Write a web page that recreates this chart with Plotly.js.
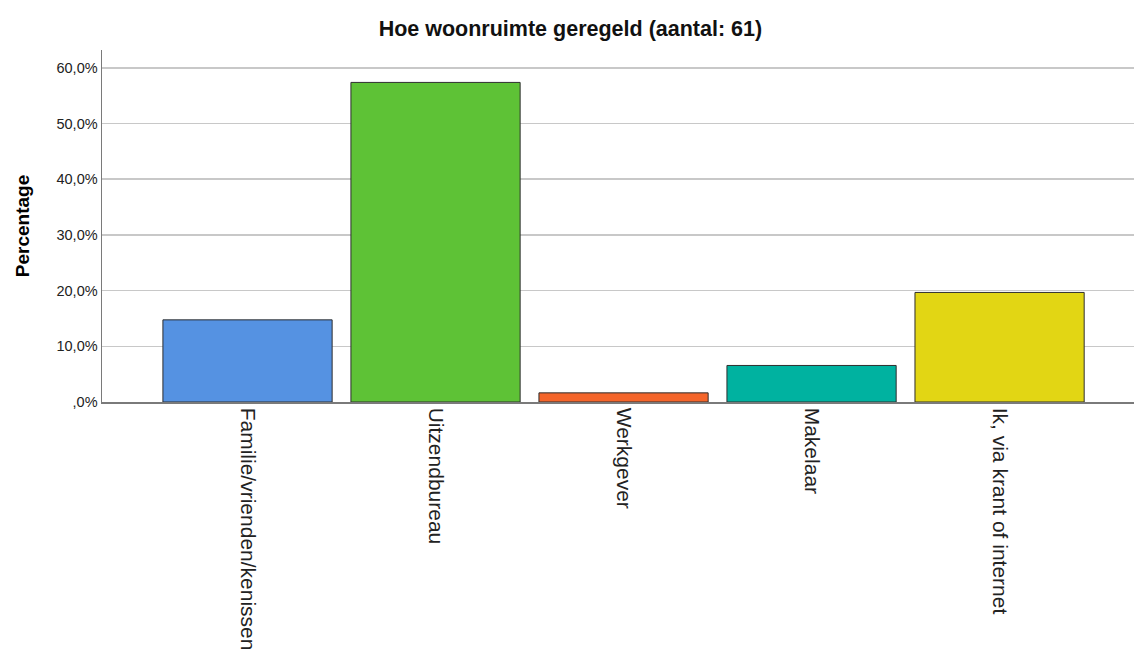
<!DOCTYPE html>
<html>
<head>
<meta charset="utf-8">
<script src="https://cdn.plot.ly/plotly-3.0.1.min.js"></script>
<style>
  html, body { margin: 0; padding: 0; background: #fff; }
  #chart { width: 1134px; height: 658px; }
</style>
</head>
<body>
<div id="chart"></div>
<script>
  /* ── data ── */
  const categories = ['Familie/vrienden/kenissen', 'Uitzendbureau', 'Werkgever', 'Makelaar', 'Ik, via krant of internet'];
  const percentages = [14.75, 57.38, 1.64, 6.56, 19.67];
  const barColors = ['#5592e2', '#5ec236', '#f4652a', '#00b2a0', '#e2d614'];
  const yTickVals = [0, 10, 20, 30, 40, 50, 60];
  const yTickText = [',0%', '10,0%', '20,0%', '30,0%', '40,0%', '50,0%', '60,0%'];

  const xs = categories.map((_, i) => i);

  Plotly.newPlot('chart', [
    {
      type: 'bar',
      x: xs, y: percentages,
      marker: { color: barColors, line: { color: '#2e2e2e', width: 1 } },
      hoverinfo: 'skip'
    }
  ], {
    width: 1134, height: 658,
    paper_bgcolor: '#fff', plot_bgcolor: '#fff',
    font: { family: 'Liberation Sans, Arial, sans-serif', color: '#000' },
    margin: { t: 50, r: 0, b: 256, l: 102 },
    title: {
      text: '<b>Hoe woonruimte geregeld (aantal: 61)</b>',
      font: { size: 21.5, color: '#111' },
      x: 0.503, xanchor: 'center', y: 0.957, yanchor: 'middle'
    },
    bargap: 0.1,
    showlegend: false,
    xaxis: {
      range: [-0.774, 4.715],
      tickvals: xs, ticktext: categories,
      tickangle: 90,
      tickfont: { size: 21, color: '#222' },
      showgrid: false, zeroline: false,
      showline: true, linecolor: '#7a7a7a', linewidth: 1.5,
      ticks: '', ticklen: 0
    },
    yaxis: {
      range: [0, 63.2],
      tickvals: yTickVals, ticktext: yTickText,
      tickfont: { size: 14.5, color: '#222' },
      ticks: '',
      showgrid: true, gridcolor: '#c8c8c8', gridwidth: 1.5,
      zeroline: false,
      showline: true, linecolor: '#7a7a7a', linewidth: 1.5,
      title: { text: '<b>Percentage</b>', font: { size: 19, color: '#000' }, standoff: 22 }
    }
  }, { displayModeBar: false, staticPlot: true });
</script>
</body>
</html>
